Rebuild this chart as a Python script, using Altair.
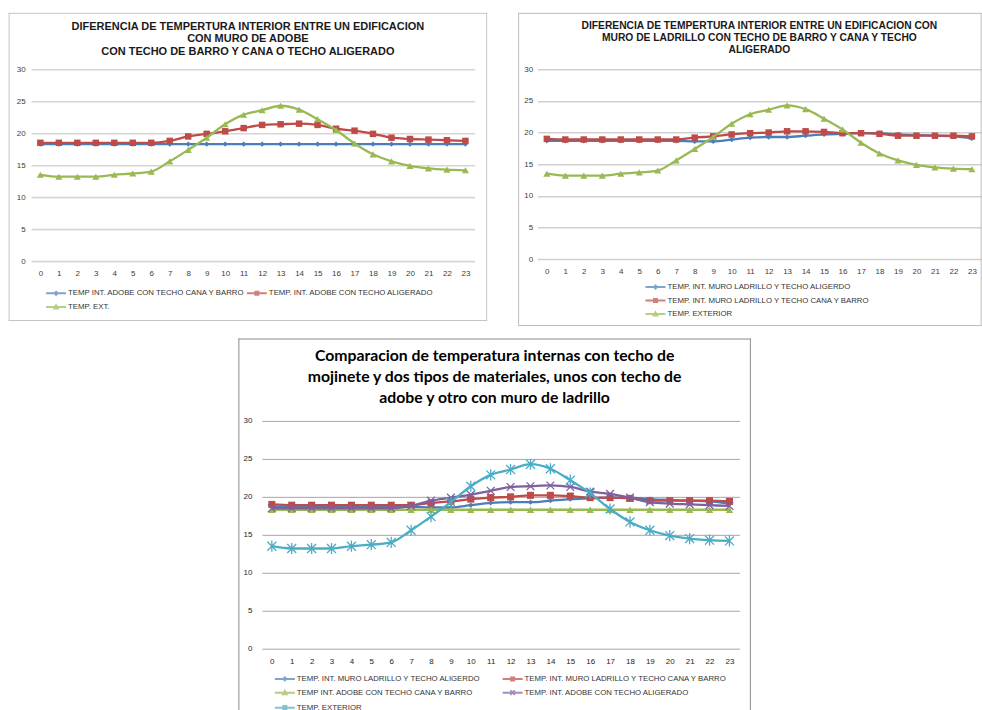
import altair as alt
import pandas as pd

# ---- hourly readings (hour 0..23) ----
hours = list(range(24))

temp_exterior = [13.5, 13.2, 13.2, 13.2, 13.5, 13.7, 14.0, 15.6, 17.4, 19.3, 21.4, 22.9,
                 23.6, 24.3, 23.7, 22.2, 20.5, 18.4, 16.7, 15.6, 14.9, 14.5, 14.3, 14.2]
adobe_cana_barro = [18.3, 18.3, 18.3, 18.3, 18.3, 18.3, 18.3, 18.3, 18.3, 18.3, 18.3, 18.3,
                    18.3, 18.3, 18.3, 18.3, 18.3, 18.3, 18.3, 18.3, 18.3, 18.3, 18.3, 18.3]
adobe_aligerado = [18.5, 18.5, 18.5, 18.5, 18.5, 18.5, 18.5, 18.8, 19.5, 19.9, 20.3, 20.8,
                   21.3, 21.4, 21.5, 21.3, 20.7, 20.4, 19.9, 19.3, 19.1, 19.0, 18.9, 18.8]
ladrillo_aligerado = [18.7, 18.7, 18.7, 18.7, 18.7, 18.7, 18.7, 18.7, 18.6, 18.6, 18.9, 19.2,
                      19.3, 19.3, 19.5, 19.7, 19.8, 19.9, 19.9, 19.7, 19.6, 19.5, 19.4, 19.1]
ladrillo_cana_barro = [19.0, 18.9, 18.9, 18.9, 18.9, 18.9, 18.9, 18.9, 19.2, 19.4, 19.7, 19.9,
                       20.0, 20.2, 20.2, 20.1, 19.9, 19.9, 19.8, 19.5, 19.5, 19.5, 19.5, 19.4]

y_ticks = [0, 5, 10, 15, 20, 25, 30]

BLUE, RED, GREEN, PURPLE, CYAN = "#4a7ebb", "#be4b48", "#98b954", "#7d60a0", "#4bacc6"
FONT = "Liberation Sans"

# data markers
X_MARK = "M-1,-1L1,1M-1,1L1,-1"
STAR_MARK = "M-1,-1L1,1M-1,1L1,-1M0,-1.25V1.25"

# legend glyphs: short line with the marker on it (1 unit = 5px at symbolSize 100)
LEG_DIAMOND = "M-2,0H2M0,-0.3L0.3,0L0,0.3L-0.3,0Z"
LEG_SQUARE = "M-2,0H2M-0.3,-0.3H0.3V0.3H-0.3Z"
LEG_TRIANGLE = "M-2,0H2M0,-0.35L0.35,0.3H-0.35Z"
LEG_X = "M-2,0H2M-0.45,-0.45L0.45,0.45M-0.45,0.45L0.45,-0.45"
LEG_STAR = "M-2,0H2M-0.45,-0.45L0.45,0.45M-0.45,0.45L0.45,-0.45M0,-0.55V0.55"


def serie(name, values, color, marker, msize, filled, glyph, lw=2.3):
    return dict(name=name, values=values, color=color, marker=marker, msize=msize,
                filled=filled, glyph=glyph, lw=lw)


def axes(grid_color, grid_width, ypad, xpad, label_color):
    xenc = alt.X("hora:O", scale=alt.Scale(type="point", padding=0.5),
                 axis=alt.Axis(title=None, labelAngle=0, ticks=False, domain=False, grid=False,
                               labelPadding=xpad, labelFont=FONT, labelFontSize=8,
                               labelColor=label_color))
    yenc = alt.Y("temp:Q", scale=alt.Scale(domain=[0, 30], nice=False),
                 axis=alt.Axis(title=None, values=y_ticks, ticks=False, domain=False, grid=True,
                               gridColor=grid_color, gridWidth=grid_width, labelPadding=ypad,
                               labelFont=FONT, labelFontSize=8, labelColor=label_color))
    return xenc, yenc


def frame(x1, x2, y1, y2, color, bottom=True):
    """Outline around a whole panel (title, plot and legend), drawn as rules."""
    one = alt.InlineData(values=[{"f": 1}])
    rule = alt.Chart(one).mark_rule(color=color, strokeWidth=1, strokeCap="square")
    parts = [
        rule.encode(x=alt.value(x1), x2=alt.value(x2), y=alt.value(y1)),
        rule.encode(x=alt.value(x1), y=alt.value(y1), y2=alt.value(y2)),
        rule.encode(x=alt.value(x2), y=alt.value(y1), y2=alt.value(y2)),
    ]
    if bottom:
        parts.append(rule.encode(x=alt.value(x1), x2=alt.value(x2), y=alt.value(y2)))
    return parts


def panel(series, legend_order, width, height, title, box, box_color, grid, leg, bottom=True):
    xenc, yenc = axes(*grid)
    layers = frame(*box, box_color, bottom=bottom)
    for s in series:
        d = pd.DataFrame({"hora": hours, "temp": s["values"]})
        base = alt.Chart(d).encode(x=xenc, y=yenc)
        layers.append(base.mark_line(color=s["color"], strokeWidth=s["lw"], interpolate="monotone"))
        layers.append(base.mark_point(shape=s["marker"], size=s["msize"], filled=s["filled"],
                                      color=s["color"], opacity=1, strokeWidth=1.3))
    # legend entries fill column by column
    ordered = [series[i] for i in legend_order]
    names = [s["name"] for s in ordered]
    legend = alt.Legend(title=None, orient="none", padding=0, labelFont=FONT,
                        labelFontSize=7.8, labelColor="#333333", labelLimit=400,
                        symbolSize=100, symbolStrokeWidth=2, symbolOffset=0, **leg)
    leg_layer = alt.Chart(pd.DataFrame({"serie": names})).transform_filter("false").mark_point(
        filled=False
    ).encode(
        color=alt.Color("serie:N", scale=alt.Scale(domain=names, range=[s["color"] for s in ordered]),
                        legend=legend),
        shape=alt.Shape("serie:N", scale=alt.Scale(domain=names, range=[s["glyph"] for s in ordered]),
                        legend=legend),
    )
    layers.append(leg_layer)
    return alt.layer(*layers).properties(width=width, height=height, title=title)


# ---- panel 1: adobe walls ----
p1_series = [
    serie("TEMP INT. ADOBE CON TECHO CANA Y BARRO", adobe_cana_barro, BLUE, "diamond", 28, True, LEG_DIAMOND),
    serie("TEMP. INT. ADOBE CON TECHO ALIGERADO", adobe_aligerado, RED, "square", 42, True, LEG_SQUARE),
    serie("TEMP. EXT.", temp_exterior, GREEN, "triangle-up", 50, True, LEG_TRIANGLE),
]
p1_title = alt.TitleParams(
    text=["DIFERENCIA DE TEMPERTURA INTERIOR ENTRE UN EDIFICACION",
          "CON MURO  DE  ADOBE",
          "CON TECHO DE BARRO Y CANA  O TECHO ALIGERADO"],
    font=FONT, fontSize=11, fontWeight="bold", color="#1a1a1a", anchor="middle",
    frame="bounds", offset=-44, lineHeight=12.5, baseline="top")
p1 = panel(p1_series, [0, 2, 1], 444, 192, p1_title, (-22, 456, -56, 251.5), "#c4c4c4",
           ("#d6d6d6", 1.6, 6, 8, "#404040"),
           dict(legendX=19, legendY=218, columns=2, labelOffset=6, rowPadding=2, columnPadding=-3))

# ---- panel 2: brick walls ----
p2_series = [
    serie("TEMP. INT. MURO LADRILLO Y TECHO ALIGERDO", ladrillo_aligerado, BLUE, "diamond", 28, True, LEG_DIAMOND),
    serie("TEMP.  INT.  MURO LADRILLO Y TECHO CANA Y BARRO", ladrillo_cana_barro, RED, "square", 42, True, LEG_SQUARE),
    serie("TEMP. EXTERIOR", temp_exterior, GREEN, "triangle-up", 50, True, LEG_TRIANGLE),
]
p2_title = alt.TitleParams(
    text=["DIFERENCIA DE TEMPERTURA INTERIOR ENTRE UN EDIFICACION CON",
          "MURO DE LADRILLO CON TECHO DE BARRO Y CANA  Y  TECHO",
          "ALIGERADO"],
    font=FONT, fontSize=10.3, fontWeight="bold", color="#1a1a1a", anchor="middle",
    frame="group", offset=-43, lineHeight=12, baseline="top")
p2 = panel(p2_series, [0, 1, 2], 444, 190, p2_title, (-19, 444, -56, 256.5), "#bdbdbd",
           ("#d0d0d0", 1.5, 5, 8, "#404040"),
           dict(legendX=112, legendY=212, columns=1, labelOffset=6, rowPadding=1.5))

# ---- panel 3: all interiors compared ----
p3_series = [
    serie("TEMP. INT. MURO LADRILLO Y TECHO ALIGERDO", ladrillo_aligerado, BLUE, "diamond", 28, True, LEG_DIAMOND),
    serie("TEMP.  INT.  MURO LADRILLO Y TECHO CANA Y BARRO", ladrillo_cana_barro, RED, "square", 50, True, LEG_SQUARE),
    serie("TEMP INT. ADOBE CON TECHO CANA Y BARRO", adobe_cana_barro, GREEN, "triangle-up", 55, True, LEG_TRIANGLE),
    serie("TEMP. INT. ADOBE CON TECHO ALIGERADO", adobe_aligerado, PURPLE, X_MARK, 60, False, LEG_X),
    serie("TEMP. EXTERIOR", temp_exterior, CYAN, STAR_MARK, 80, False, LEG_STAR),
]
p3_title = alt.TitleParams(
    text=["Comparacion de temperatura internas con techo de",
          "mojinete y dos tipos  de materiales, unos con techo de",
          "adobe y otro con muro de ladrillo"],
    font="Lato", fontSize=15.8, fontWeight="bold", color="#000000", anchor="middle",
    frame="bounds", offset=-69, lineHeight=21, baseline="top")
p3 = panel(p3_series, [0, 2, 4, 1, 3], 478, 228, p3_title, (-23, 489, -82, 290), "#8c8c8c",
           ("#a6a6a6", 1, 10, 9, "#262626"),
           dict(legendX=17, legendY=252, columns=2, labelOffset=6, rowPadding=1, columnPadding=18),
           bottom=False)

top = alt.hconcat(p1, p2, spacing=30).resolve_scale(color="independent", shape="independent")
chart = alt.vconcat(top, p3, spacing=11, center=True).resolve_scale(
    color="independent", shape="independent"
).properties(
    padding={"left": 8, "top": 12, "right": 0, "bottom": 0}, background="white"
).configure_view(strokeWidth=0)

chart.save("out.html", embed_options={"renderer": "svg", "actions": False})
